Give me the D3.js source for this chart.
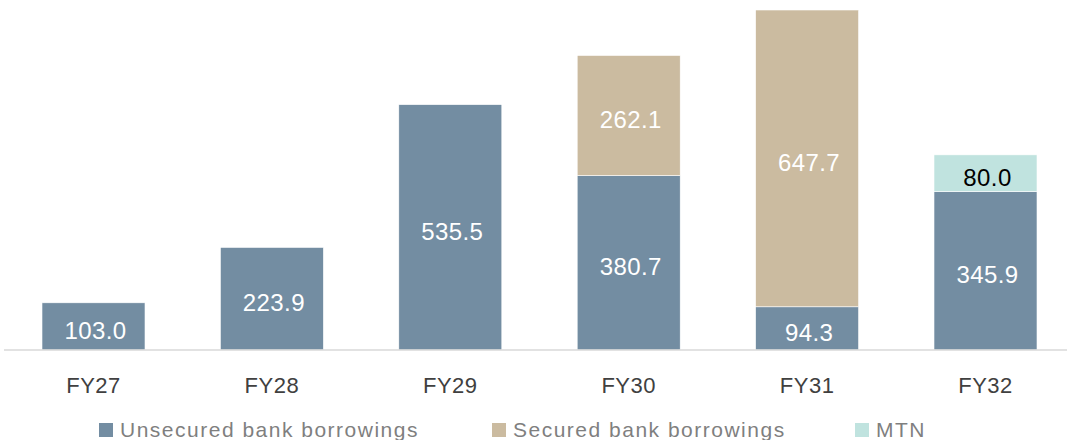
<!DOCTYPE html>
<html><head><meta charset="utf-8">
<script src="https://cdn.jsdelivr.net/npm/d3@7"></script>
<style>body{margin:0;background:#fff}svg{display:block}</style>
</head><body>
<svg id="c" width="1067" height="440"></svg>
<script>
const categories = ["FY27","FY28","FY29","FY30","FY31","FY32"];
const unsecured = [103.0, 223.9, 535.5, 380.7, 94.3, 345.9];
const secured   = [0, 0, 0, 262.1, 647.7, 0];
const mtn       = [0, 0, 0, 0, 0, 80.0];
const seriesNames = ["Unsecured bank borrowings","Secured bank borrowings","MTN"];
const colors = ["#738DA2","#CBBBA0","#C0E3DF"];
const labelColors = ["#ffffff","#ffffff","#000000"];

const svg = d3.select("#c");
const font = "'Liberation Sans', Arial, sans-serif";
const x = d3.scaleBand().domain(categories).range([4.3,1074.7]).paddingInner(0.4226).paddingOuter(0.2113);
const y = d3.scaleLinear().domain([0,742]).range([350,10]);

const rows = categories.map((c,i)=>({cat:c, v:[unsecured[i],secured[i],mtn[i]]}));
const stack = d3.stack().keys([0,1,2]).value((d,k)=>d.v[k]);
const layers = stack(rows);

layers.forEach((layer,k)=>{
  const g = svg.append("g");
  layer.forEach((d,i)=>{
    const val = rows[i].v[k];
    if(!val) return;
    g.append("rect").attr("x",x(rows[i].cat)).attr("width",x.bandwidth())
      .attr("y",y(d[1])).attr("height",y(d[0])-y(d[1]))
      .attr("fill",colors[k]).attr("stroke","#fff").attr("stroke-width",0.6);
    g.append("text").attr("x",x(rows[i].cat)+x.bandwidth()/2+2)
      .attr("y",(y(d[0])+y(d[1]))/2+12.5)
      .attr("text-anchor","middle").attr("font-family",font).attr("font-size",24)
      .attr("letter-spacing",0.4)
      .attr("fill",labelColors[k]).text(val.toFixed(1));
  });
});

// axis
const ax = svg.append("g").attr("transform","translate(0,350)").call(d3.axisBottom(x).tickSize(0).tickPadding(26));
ax.select(".domain").remove();
ax.append("line").attr("x1",4).attr("x2",1067).attr("y1",0).attr("y2",0).attr("stroke","#d9d9d9").attr("stroke-width",1.5);
ax.selectAll("text").attr("font-family",font).attr("font-size",22).attr("letter-spacing",0.5)
  .attr("fill","#404040").attr("dy",null).attr("y",43.3);

// legend
const legX = [99,492,855];
seriesNames.forEach((n,k)=>{
  svg.append("rect").attr("x",legX[k]).attr("y",423).attr("width",14).attr("height",14).attr("fill",colors[k]);
  svg.append("text").attr("x",legX[k]+21).attr("y",437).attr("font-family",font).attr("font-size",21)
    .attr("letter-spacing",1.5).attr("fill","#7f7f7f").text(n);
});
</script>
</body></html>
